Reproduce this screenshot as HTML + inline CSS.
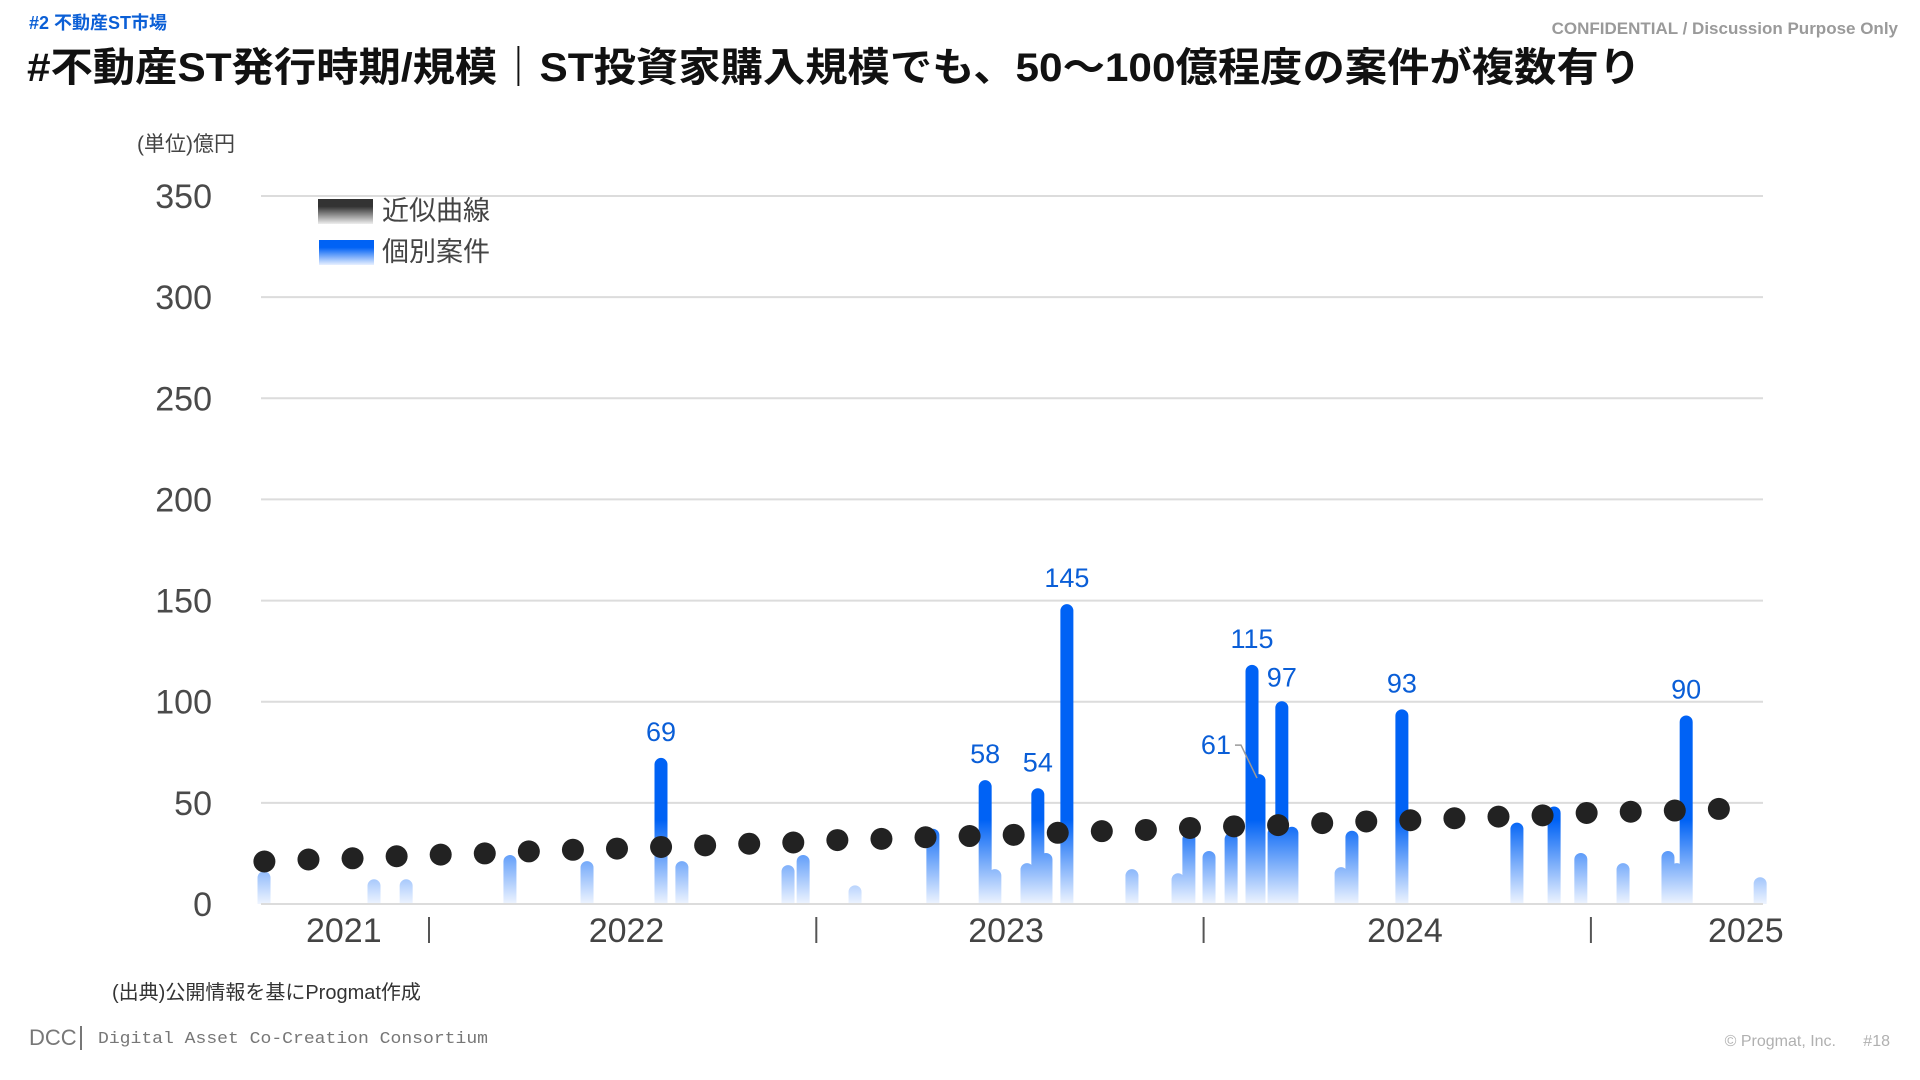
<!DOCTYPE html>
<html><head><meta charset="utf-8"><style>
html,body{margin:0;padding:0;background:#fff;}
svg{display:block;font-family:"Liberation Sans","Noto Sans CJK JP",sans-serif;}
</style></head>
<body>
<svg id="chart" width="1920" height="1080" viewBox="0 0 1920 1080" xmlns="http://www.w3.org/2000/svg">
<defs>
<linearGradient id="barGrad" gradientUnits="userSpaceOnUse" x1="0" y1="820" x2="0" y2="904">
<stop offset="0" stop-color="#0062f5"/><stop offset="1" stop-color="#eef4ff"/>
</linearGradient>
<linearGradient id="legBlue" x1="0" y1="0" x2="0" y2="1"><stop offset="0.3" stop-color="#0062f5"/><stop offset="1" stop-color="#e8f0ff"/></linearGradient>
<linearGradient id="legDark" x1="0" y1="0" x2="0" y2="1"><stop offset="0.3" stop-color="#333"/><stop offset="1" stop-color="#eee"/></linearGradient>
</defs>
<text x="29" y="29" font-size="18" font-weight="bold" fill="#0b5fd6">#2  不動産ST市場</text>
<text x="1898" y="34" font-size="17" font-weight="bold" fill="#9a9a9a" text-anchor="end">CONFIDENTIAL / Discussion Purpose Only</text>
<text x="27" y="81" font-size="40" font-weight="bold" fill="#111" textLength="1614" lengthAdjust="spacingAndGlyphs">#不動産ST発行時期/規模｜ST投資家購入規模でも、50～100億程度の案件が複数有り</text>
<text x="137" y="151" font-size="21" fill="#444">(単位)億円</text>
<g id="grid"></g>
<g id="yticks"></g>
<g id="bars"></g>
<g id="dots"></g>
<g id="labels"></g>
<g id="xaxis"></g>
<g>
<rect x="318" y="199" width="55" height="25" fill="url(#legDark)"/>
<text x="382" y="220" font-size="27" fill="#444">近似曲線</text>
<rect x="319" y="240" width="55" height="25" fill="url(#legBlue)"/>
<text x="382" y="261" font-size="27" fill="#444">個別案件</text>
</g>
<text x="112" y="999" font-size="20" fill="#333">(出典)公開情報を基にProgmat作成</text>
<text x="29" y="1045" font-size="22" fill="#777">DCC</text>
<rect x="80" y="1026" width="2" height="24" fill="#777"/>
<text x="98" y="1043" font-size="17" fill="#777" font-family="Liberation Mono, monospace" textLength="390" lengthAdjust="spacingAndGlyphs">Digital Asset Co-Creation Consortium</text>
<text x="1836" y="1046" font-size="16" fill="#b0b0b0" text-anchor="end">© Progmat, Inc.</text>
<text x="1890" y="1046" font-size="16" fill="#b0b0b0" text-anchor="end">#18</text>
</svg>
<script>
const barDates = [2021.574,2021.858,2021.941,2022.209,2022.408,2022.599,2022.653,2022.927,2022.966,2023.100,2023.301,2023.436,2023.461,2023.544,2023.572,2023.593,2023.647,2023.815,2023.934,2023.962,2024.014,2024.071,2024.125,2024.143,2024.182,2024.202,2024.228,2024.355,2024.383,2024.512,2024.809,2024.905,2024.974,2025.083,2025.199,2025.222,2025.246,2025.437];
const barValues = [13,9,9,21,18,69,18,16,21,6,34,58,14,17,54,22,145,14,12,32,23,32,115,61,35,97,35,15,33,93,37,45,22,17,23,17,90,10];
const barLabels = [null,null,null,null,null,"69",null,null,null,null,null,"58",null,null,"54",null,"145",null,null,null,null,null,"115","61",null,"97",null,null,null,"93",null,null,null,null,null,null,"90",null];
const trendStart = 2021.575;
const trendStep = 0.1138;
const trendValues = [21,22,22.6,23.6,24.4,25,26,26.8,27.4,28.2,29,29.8,30.4,31.6,32.2,33,33.6,34.2,35.2,36,36.6,37.6,38.4,39,40,40.8,41.4,42.4,43.2,43.8,45,45.6,46.2,47];
const yTicks = [0,50,100,150,200,250,300,350];
const yearLabels = ["2021","2022","2023","2024","2025"];
const yearLabelPos = [2021.78,2022.51,2023.49,2024.52,2025.40];
const yearSeparators = [2022,2023,2024,2025];

const NS="http://www.w3.org/2000/svg";
const X0=261, X1=1763, Y0=904, PXU=(904-196)/350;
function xs(t){return 429+(t-2022)*387.3;}
function ys(v){return Y0-v*PXU;}
function mk(tag,attrs,parent){const e=document.createElementNS(NS,tag);for(const k in attrs)e.setAttribute(k,attrs[k]);parent.appendChild(e);return e;}
const grid=document.getElementById('grid'), yt=document.getElementById('yticks');
yTicks.forEach(v=>{
  const l=mk('line',{x1:X0,x2:X1,y1:ys(v),y2:ys(v),stroke:'#dcdcdc','stroke-width':2},grid);
  
  
  const t=mk('text',{x:212,y:ys(v)+12,'font-size':34,fill:'#4a4a4a','text-anchor':'end'},yt);
  t.textContent=v;
  
  
});
const bars=document.getElementById('bars'), labels=document.getElementById('labels');
const W=13, R=6.5;
const order=barValues.map((v,i)=>i).sort((a,b)=>barValues[b]-barValues[a]);
order.forEach(i=>{
  const cx=xs(barDates[i]), top=ys(barValues[i])-R;
  const p=mk('path',{d:`M${cx-W/2},${Y0} L${cx-W/2},${top+R} A${R},${R} 0 0 1 ${cx+W/2},${top+R} L${cx+W/2},${Y0} Z`,fill:'url(#barGrad)'},bars);
  
  
});
barLabels.forEach((lab,i)=>{
  if(!lab)return;
  const cx=xs(barDates[i]), top=ys(barValues[i])-R;
  let t;
  if(lab==="61"){
    t=mk('text',{x:cx-28,y:top-20,'font-size':27,fill:'#0a5ed7','text-anchor':'end'},labels);
    const ld=mk('polyline',{points:`${cx-24},${top-29} ${cx-18},${top-29} ${cx-2},${top+4}`,fill:'none',stroke:'#999','stroke-width':1.5},labels);
    
    
  } else if(lab==="97"){
    t=mk('text',{x:cx,y:top-15,'font-size':27,fill:'#0a5ed7','text-anchor':'middle'},labels);
  } else {
    t=mk('text',{x:cx,y:top-17,'font-size':27,fill:'#0a5ed7','text-anchor':'middle'},labels);
  }
  t.textContent=lab;
  
  
});
const dots=document.getElementById('dots');
trendValues.forEach((v,i)=>{
  const c=mk('circle',{cx:xs(trendStart+i*trendStep),cy:ys(v),r:11,fill:'#222'},dots);
  
  
});
const xa=document.getElementById('xaxis');
mk('line',{x1:X0,x2:X1,y1:Y0,y2:Y0,stroke:'#dcdcdc','stroke-width':2},xa);
yearLabels.forEach((y,i)=>{
  const t=mk('text',{x:xs(yearLabelPos[i]),y:942,'font-size':34,fill:'#444','text-anchor':'middle'},xa);
  t.textContent=y;
  
  
});
yearSeparators.forEach(s=>{
  const l=mk('line',{x1:xs(s),x2:xs(s),y1:917,y2:943,stroke:'#555','stroke-width':2},xa);
  
  
});
</script>
</body></html>
